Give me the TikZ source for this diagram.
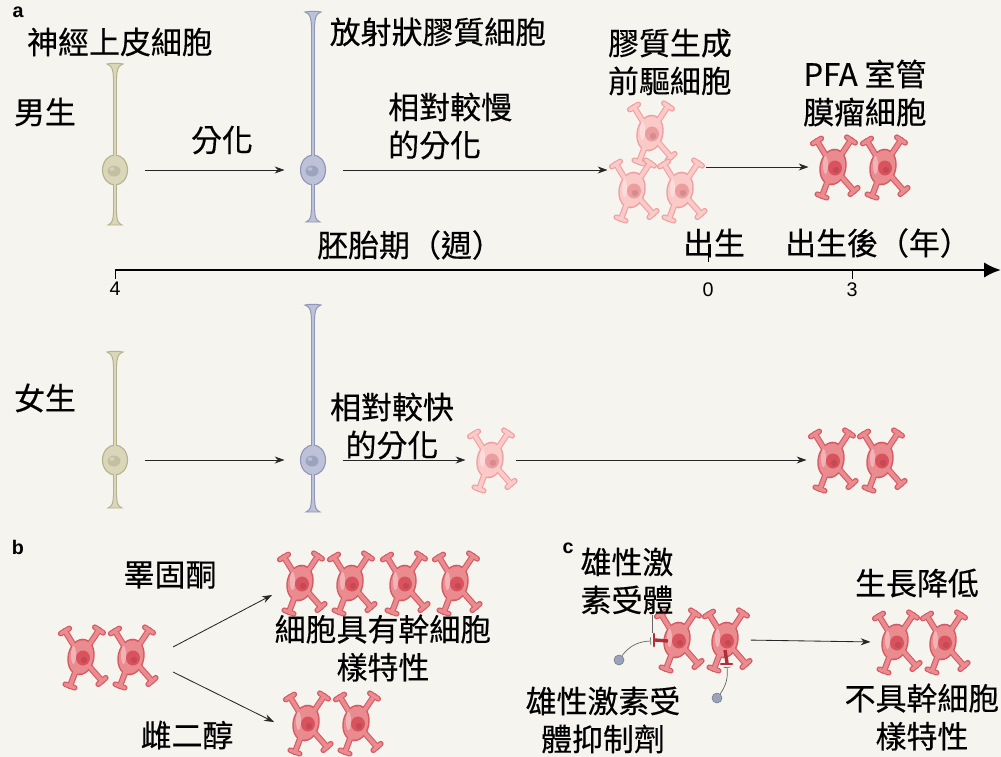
\documentclass[tikz,border=0pt]{standalone}
\usepackage{fontspec}
\setsansfont{Liberation Sans}
\newfontfamily\cjk[FakeBold=0.4]{Noto Sans CJK TC}
\usetikzlibrary{arrows.meta,positioning}

\definecolor{bg}{HTML}{F5F4EE}
\definecolor{tumfill}{HTML}{EA8B90}
\definecolor{tumline}{HTML}{D65A63}
\definecolor{tumnuc}{HTML}{D9535E}
\definecolor{opcfill}{HTML}{F9CAC8}
\definecolor{opcline}{HTML}{F0A0A1}
\definecolor{opcnuc}{HTML}{EC9DA0}
\definecolor{nefill}{HTML}{DAD6B9}
\definecolor{neline}{HTML}{B7B28D}
\definecolor{nenuc}{HTML}{C4BFA1}
\definecolor{rgfill}{HTML}{BEC2D8}
\definecolor{rgline}{HTML}{8F96B6}
\definecolor{rgnuc}{HTML}{9DA2BE}
\definecolor{recept}{HTML}{B02E36}
\definecolor{drug}{HTML}{9AA3B9}

\tikzset{
  % star shaped glial / tumour cell: fill, outline, nucleus
  pics/stellate/.style n args={3}{code={
    \draw[#2,line width=4.4pt,line cap=round] (0,0) -- (-16,-26) (0,0) -- (18,-27) (0,0) -- (-11,29) (0,0) -- (21,24);
    \draw[#2,line width=4pt,line cap=round] (-20.3,-23.4) -- (-11.7,-28.6) (13.8,-29.8) -- (22.2,-24.2)
      (-15.7,27.2) -- (-6.3,30.8) (17.2,27.3) -- (24.8,20.7);
    \fill[#2] (0,0) ellipse [x radius=13.5,y radius=18.5,rotate=-12];
    \draw[#1,line width=2.8pt,line cap=round] (0,0) -- (-16,-26) (0,0) -- (18,-27) (0,0) -- (-11,29) (0,0) -- (21,24);
    \draw[#1,line width=2.4pt,line cap=round] (-20.3,-23.4) -- (-11.7,-28.6) (13.8,-29.8) -- (22.2,-24.2)
      (-15.7,27.2) -- (-6.3,30.8) (17.2,27.3) -- (24.8,20.7);
    \fill[#1] (0,0) ellipse [x radius=12,y radius=17,rotate=-12];
    \fill[white,opacity=.35] (-7.5,-2) ellipse [x radius=2.5,y radius=9];
    \fill[#3] (2,1) ellipse [x radius=7,y radius=7.5];
    \fill[#3!80!black,opacity=.5] (3,3) circle (3.2);
  }},
  % elongated neuroepithelial / radial glial cell: top, bottom, fill, outline, nucleus
  pics/bipolar/.style n args={5}{code={
    \draw[#4,line width=3.4pt] (0,#1+6) -- (0,#2-6);
    \filldraw[fill=#3,draw=#4,line width=0.7pt] (-8,#1) .. controls (-2.5,#1+2) and (-2,#1+6) .. (-1.6,#1+14)
      -- (1.6,#1+14) .. controls (2,#1+6) and (2.5,#1+2) .. (8,#1) .. controls (3,#1-1) and (-3,#1-1) .. cycle;
    \filldraw[fill=#3,draw=#4,line width=0.7pt] (-7,#2) .. controls (-2.5,#2-2) and (-2,#2-5) .. (-1.6,#2-12)
      -- (1.6,#2-12) .. controls (2,#2-5) and (2.5,#2-2) .. (7,#2) -- cycle;
    \filldraw[fill=#3,draw=#4,line width=0.8pt] (0,0) ellipse [x radius=12.5,y radius=15];
    \draw[#3,line width=2pt] (0,#1+5) -- (0,-12) (0,12) -- (0,#2-5);
    \fill[#5] (-1,1) ellipse [x radius=6.5,y radius=5.5];
    \fill[white,opacity=.3] (-3,-1) ellipse [x radius=2.5,y radius=1.8];
  }},
}

\begin{document}
\begin{tikzpicture}[x=0.025cm,y=-0.025cm,
  font=\cjk\fontsize{22}{27}\selectfont,
  arr/.style={draw=black!85,line width=0.6pt,-{Stealth[length=7pt,width=5pt]},shorten <=4pt,shorten >=3pt},
  cellbox/.style={minimum width=1cm,minimum height=1.5cm,inner sep=0pt},
  somabox/.style={minimum width=1.2cm,minimum height=0.8cm,inner sep=0pt},
  lbl/.style={align=center,inner sep=0pt},
  panel/.style={font=\sffamily\bfseries\fontsize{14}{14}\selectfont,inner sep=0pt},
  ticklbl/.style={font=\sffamily\fontsize{14}{14}\selectfont,inner sep=0pt},
  dot/.style={circle,fill=drug,draw=drug!75!black,line width=0.4pt,minimum size=0.25cm,inner sep=0pt},
  receptor/.style={recept,line width=2.4pt},
  inhib/.style={black!60,line width=0.5pt,-{Bar[width=5pt]}}]

\useasboundingbox (0,0) rectangle (1001,757);
\fill[bg] (0,0) rectangle (1001,757);

% ---- a: timeline of the cells of origin
\node[panel] (pa) at (18,12) {a};
\node[lbl] (nelbl) at (120,42) {神經上皮細胞};
\node[lbl] (rglbl) at (438,32) {放射狀膠質細胞};
\node[lbl] (male) at (45,112) {男生};
\node[lbl] (female) at (45,398) {女生};

% male row
\node[somabox] (ne1) at (115,170) {};
\pic at (ne1) {bipolar={-106}{55}{nefill}{neline}{nenuc}};
\node[somabox] (rg1) at (313,170) {};
\pic at (rg1) {bipolar={-158}{52}{rgfill}{rgline}{rgnuc}};
\node[cellbox] (opc1) at (650,133) {};
\node[cellbox] (opc2) at (632,190) {};
\node[cellbox] (opc3) at (680,190) {};
\foreach \c in {opc1,opc2,opc3} \pic at (\c) {stellate={opcfill}{opcline}{opcnuc}};
\node[cellbox] (ta1) at (833,167) {};
\node[cellbox] (ta2) at (883,167) {};
\foreach \c in {ta1,ta2} \pic at (\c) {stellate={tumfill}{tumline}{tumnuc}};

\draw[arr] (ne1.east) -- (rg1.west);
\draw[arr] (rg1.east) -- (rg1.east -| opc2.west);
\draw[arr] (opc3.east |- ta1.west) -- (ta1.west);
\node[lbl] (diff) at (222,140) {分化};
\node[lbl,align=left,anchor=west] (slow) at (388,126) {相對較慢\\的分化};
\node[lbl] (opclbl) at (670,62) {膠質生成\\前驅細胞};
\node[lbl] (pfalbl) at (865,93) {PFA 室管\\膜瘤細胞};

% time axis
\coordinate (t4) at (115,270);
\coordinate (t0) at (708,270);
\coordinate (t3) at (852,270);
\coordinate (tend) at (1001,270);
\draw[line width=2pt,-{Latex[length=12pt,width=11pt]}] (t4) -- (tend);
\draw[line width=0.6pt] (t4) -- ++(0,9) (t3) -- ++(0,9) ([yshift=0.2cm]t0) -- ++(0,-17);
\node[ticklbl,below=0.3cm of t4] (l4) {4};
\node[ticklbl,below=0.3cm of t0] (l0) {0};
\node[ticklbl,below=0.3cm of t3] (l3) {3};
\node[lbl] (emb) at (410,245) {胚胎期（週）};
\node[lbl] (birth) at (714,243) {出生};
\node[lbl] (postnat) at (878,243) {出生後（年）};

% female row
\node[somabox] (ne2) at (115,460) {};
\pic at (ne2) {bipolar={-108}{48}{nefill}{neline}{nenuc}};
\node[somabox] (rg2) at (313,460) {};
\pic at (rg2) {bipolar={-155}{52}{rgfill}{rgline}{rgnuc}};
\node[cellbox] (opc4) at (490,460) {};
\pic at (opc4) {stellate={opcfill}{opcline}{opcnuc}};
\node[cellbox] (tb1) at (831,460) {};
\node[cellbox] (tb2) at (880,460) {};
\foreach \c in {tb1,tb2} \pic at (\c) {stellate={tumfill}{tumline}{tumnuc}};

\draw[arr] (ne2.east) -- (rg2.west);
\draw[arr] (rg2.east) -- (opc4.west);
\draw[arr] (opc4.east) -- (tb1.west);
\node[lbl] (fast) at (392,426) {相對較快\\的分化};

% ---- b: sex hormones
\node[panel] (pb) at (18,547) {b};
\node[cellbox] (bl1) at (81,657) {};
\node[cellbox] (bl2) at (131,657) {};
\node[cellbox] (bt1) at (300,583) {};
\node[cellbox] (bt2) at (350,583) {};
\node[cellbox] (bt3) at (403,583) {};
\node[cellbox] (bt4) at (455,583) {};
\node[cellbox] (bb1) at (306,723) {};
\node[cellbox] (bb2) at (356,723) {};
\foreach \c in {bl1,bl2,bt1,bt2,bt3,bt4,bb1,bb2} \pic at (\c) {stellate={tumfill}{tumline}{tumnuc}};
\coordinate (bup0) at (173,647);
\coordinate (bup1) at (272,595);
\coordinate (bdn0) at (173,672);
\coordinate (bdn1) at (274,722);
\draw[arr,shorten <=0pt,shorten >=0pt] (bup0) -- (bup1);
\draw[arr,shorten <=0pt,shorten >=0pt] (bdn0) -- (bdn1);
\node[lbl] (testo) at (170,575) {睪固酮};
\node[lbl] (stem) at (383,648) {細胞具有幹細胞\\樣特性};
\node[lbl] (estra) at (187,735) {雌二醇};

% ---- c: androgen receptor block
\node[panel] (pc) at (568,548) {c};
\node[cellbox] (cc1) at (677,640) {};
\node[cellbox] (cc2) at (725,640) {};
\node[cellbox] (cr1) at (895,642) {};
\node[cellbox] (cr2) at (943,642) {};
\foreach \c in {cc1,cc2,cr1,cr2} \pic at (\c) {stellate={tumfill}{tumline}{tumnuc}};

% receptors
\coordinate (rec1) at (651,641);
\coordinate (rec2) at (727,667);
\draw[receptor] (655,640) -- (668,641);
\draw[receptor,line width=2pt,line cap=round] (654,634) -- (654,646);
\draw[receptor] (725,650) -- (727,663);
\draw[receptor,line width=2pt,line cap=round] (721,664) -- (732,664);
\node[lbl] (arlbl) at (627,581) {雄性激\\素受體};
\draw[black!60,line width=0.5pt] (arlbl.south -| 652,0) -- (652,633);

% antagonist
\node[dot] (ant1) at (619,660) {};
\node[dot] (ant2) at (717,698) {};
\draw[inhib] (ant1) to[bend left=25] (rec1);
\draw[inhib] (ant2) to[bend right=20] (rec2);
\node[lbl] (arinh) at (603,720) {雄性激素受\\體抑制劑};

\draw[arr] (cc2.east) -- (cr1.west);
\node[lbl] (slowgr) at (917,583) {生長降低};
\node[lbl] (nostem) at (922,717) {不具幹細胞\\樣特性};

\end{tikzpicture}
\end{document}
